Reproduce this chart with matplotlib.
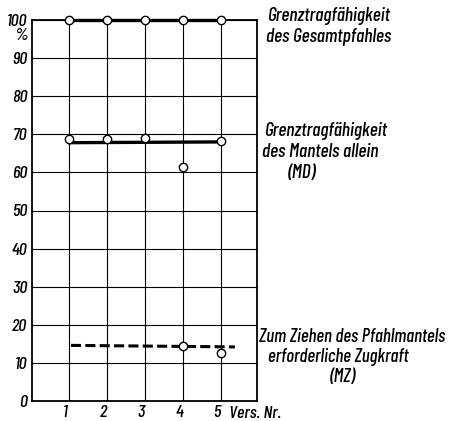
import matplotlib
matplotlib.use("Agg")
import matplotlib.pyplot as plt
from matplotlib.transforms import ScaledTranslation

versuche = [1, 2, 3, 4, 5]
gesamt = [100, 100, 100, 100, 100]
mantel = [68.8, 68.7, 68.9, 61.5, 68.2]
mantel_mittel_x = [1, 5]
mantel_mittel = [67.8, 68.0]
zug_x = [4, 5]
zug = [14.4, 12.7]
zug_mittel_x = [1.04, 5.36]
zug_mittel = [14.6, 14.2]
yticks = [0, 10, 20, 30, 40, 50, 60, 70, 80, 90, 100]

FONT = ['Barlow Condensed', 'DejaVu Sans']
plt.rcParams['font.family'] = FONT
plt.rcParams['font.style'] = 'italic'
plt.rcParams['font.weight'] = 'medium'

fig = plt.figure(figsize=(4.49, 4.21), dpi=100)
ax = fig.add_axes([31.5/449, 1-401/421, 225/449, 381/421])
ax.set_xlim(0, 5.93)
ax.set_ylim(0, 100)

for x in versuche:
    ax.axvline(x, color='black', lw=0.8, zorder=1)
for y in yticks[1:]:
    ax.axhline(y, color='black', lw=0.8, zorder=1)

ax.plot(versuche, gesamt, color='black', lw=2.4, zorder=2, clip_on=False)
ax.plot(mantel_mittel_x, mantel_mittel, color='black', lw=2.4, zorder=2)
ax.plot(zug_mittel_x, zug_mittel, color='black', lw=2.2, ls=(0, (3.3, 1.4)), zorder=2)

mk = dict(ls='none', marker='o', ms=6, mfc='white', mec='black', mew=1.0, zorder=3, clip_on=False)
ax.plot(versuche, gesamt, **mk)
ax.plot(versuche, mantel, **mk)
ax.plot(zug_x, zug, **mk)

for s in ['left', 'right', 'bottom', 'top']:
    ax.spines[s].set_linewidth(1.3)

ax.set_yticks(yticks)
ax.set_yticklabels([str(v) for v in yticks], fontsize=13)
ax.set_xticks(versuche)
ax.set_xticklabels([str(v) for v in versuche], fontsize=13)
ax.tick_params(length=0, pad=3)
shift = ScaledTranslation(-4/100, 0, fig.dpi_scale_trans)
for lab in ax.get_xticklabels():
    lab.set_transform(lab.get_transform() + shift)
ax.text(-0.11, 96, "%", ha='right', va='center', fontsize=13)
ax.text(5.2, -1.2, "Vers. Nr.", ha='left', va='top', fontsize=13)

tk = dict(ha='left', va='baseline', fontsize=14, clip_on=False)
ax.text(6.2, 99.7, "Grenztragfähigkeit", **tk)
ax.text(6.18, 94.3, "des Gesamtpfahles", **tk)
ax.text(6.12, 69.6, "Grenztragfähigkeit", **tk)
ax.text(6.07, 64.1, "des Mantels allein", **tk)
ax.text(6.75, 58.5, "(MD)", **tk)
tk3 = dict(tk, fontsize=13.5)
ax.text(5.99, 15.4, "Zum Ziehen des Pfahlmantels", **tk3)
ax.text(6.23, 10.2, "erforderliche Zugkraft", **tk3)
ax.text(7.86, 5.1, "(MZ)", **tk3)

fig.savefig("out.png", dpi=100)
